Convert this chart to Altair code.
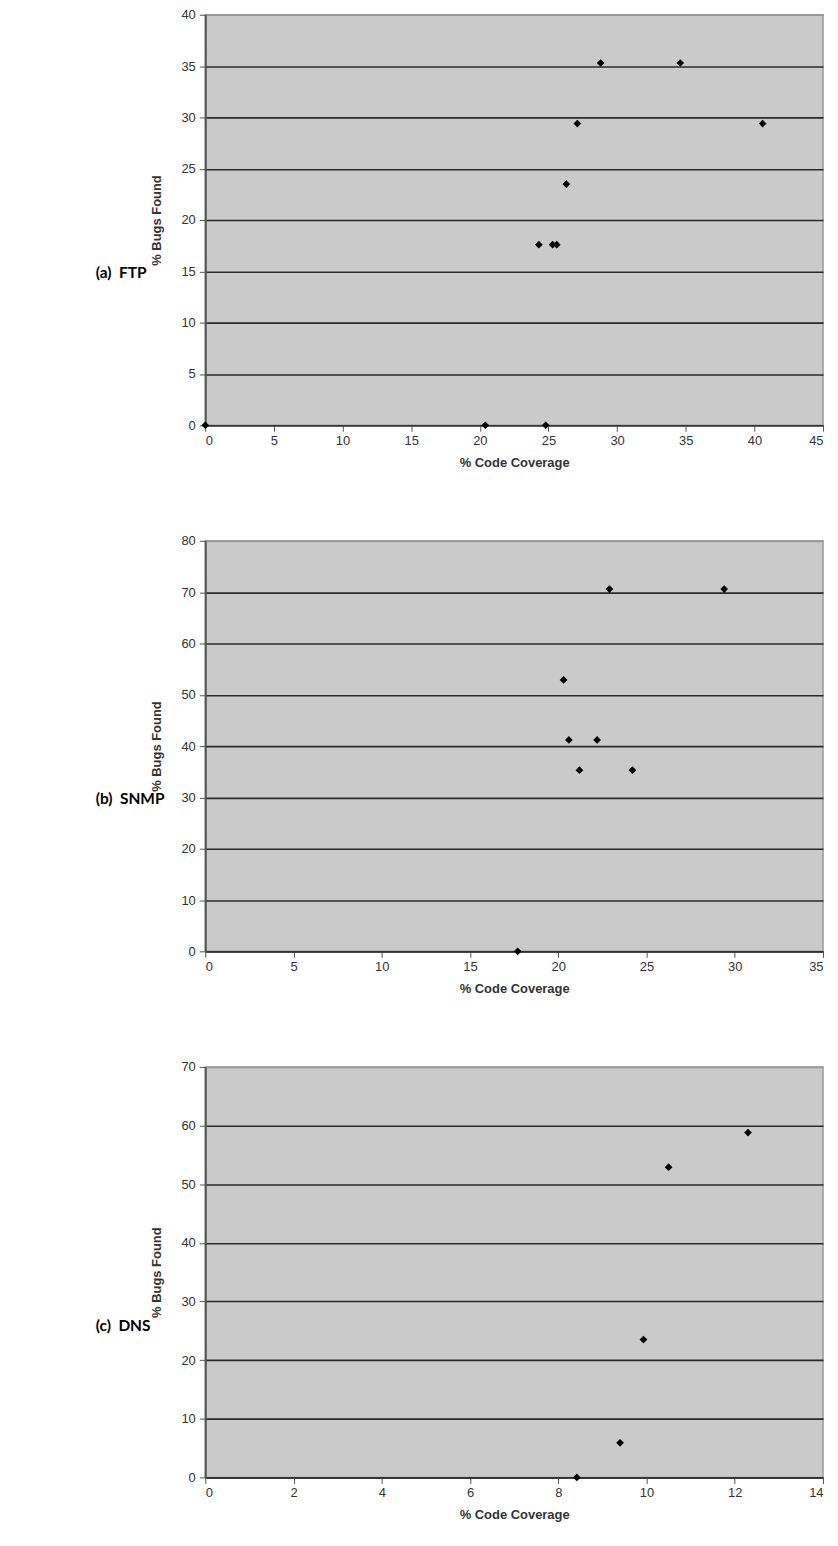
import altair as alt
import pandas as pd

# ---- data ----
ftp_cov = [0, 20.4, 24.8, 24.3, 25.3, 25.6, 26.3, 27.1, 28.8, 34.6, 40.6]
ftp_bugs = [0, 0, 0, 17.6, 17.6, 17.6, 23.5, 29.4, 35.3, 35.3, 29.4]

snmp_cov = [17.7, 20.3, 20.6, 22.2, 21.2, 24.2, 22.9, 29.4]
snmp_bugs = [0, 52.9, 41.2, 41.2, 35.3, 35.3, 70.6, 70.6]

dns_cov = [8.42, 9.4, 9.93, 10.5, 12.3]
dns_bugs = [0, 5.9, 23.5, 52.9, 58.8]

panel_labels = ["(a)\u00a0\u00a0FTP", "(b)\u00a0\u00a0SNMP", "(c)\u00a0\u00a0DNS"]
x_domains = [[0, 45], [0, 35], [0, 14]]
y_domains = [[0, 40], [0, 80], [0, 70]]
x_steps = [5, 5, 2]
y_steps = [5, 10, 10]

W, H = 620, 412


def panel(cov, bugs, label, xd, yd, xs, ys):
    df = pd.DataFrame({"cov": cov, "bugs": bugs})
    xvals = list(range(xd[0], xd[1] + 1, xs))
    yvals = list(range(yd[0], yd[1] + 1, ys))
    ymax = yd[1]
    pts = alt.Chart(df).mark_point(
        shape="diamond", filled=True, color="#000", size=60, opacity=1
    ).encode(
        x=alt.X("cov:Q", scale=alt.Scale(domain=xd, nice=False, zero=True),
                axis=alt.Axis(values=xvals, title="% Code Coverage", grid=False,
                              domainColor="#333", domainWidth=1.5,
                              tickColor="#555", tickSize=6, labelPadding=3,
                              titlePadding=9)),
        y=alt.Y("bugs:Q", scale=alt.Scale(domain=yd, nice=False, zero=True),
                axis=alt.Axis(values=yvals, title="% Bugs Found", grid=True,
                              gridColor={"condition": {"test": f"datum.value >= {ymax}", "value": "#9a9a9a"}, "value": "#2a2a2a"},
                              gridWidth=1.6,
                              domainColor="#555", domainWidth=2,
                              tickColor="#555", tickSize=6, labelPadding=4,
                              titlePadding=17)),
    )
    lab = alt.Chart(pd.DataFrame({"t": [label]})).mark_text(
        align="left", baseline="middle", font="Lato", fontWeight="bold",
        fontSize=15.5, color="#000"
    ).encode(text="t:N", x=alt.value(-110), y=alt.value(H * 0.63))
    return alt.layer(pts, lab).properties(width=W, height=H)


p1 = panel(ftp_cov, ftp_bugs, panel_labels[0], x_domains[0], y_domains[0], x_steps[0], y_steps[0])
p2 = panel(snmp_cov, snmp_bugs, panel_labels[1], x_domains[1], y_domains[1], x_steps[1], y_steps[1])
p3 = panel(dns_cov, dns_bugs, panel_labels[2], x_domains[2], y_domains[2], x_steps[2], y_steps[2])

chart = alt.vconcat(p1, p2, p3, spacing=64).properties(
    padding={"left": 87, "top": -3, "right": 5, "bottom": 5},
    background="white",
).configure_view(
    fill="#cacaca", stroke="#9a9a9a", strokeWidth=1.5
).configure_axis(
    labelFont="Liberation Sans", labelFontSize=13, labelColor="#333",
    titleFont="Liberation Sans", titleFontSize=13, titleFontWeight="bold",
    titleColor="#333",
)

chart.save("out.html", embed_options={"renderer": "svg", "actions": False})
